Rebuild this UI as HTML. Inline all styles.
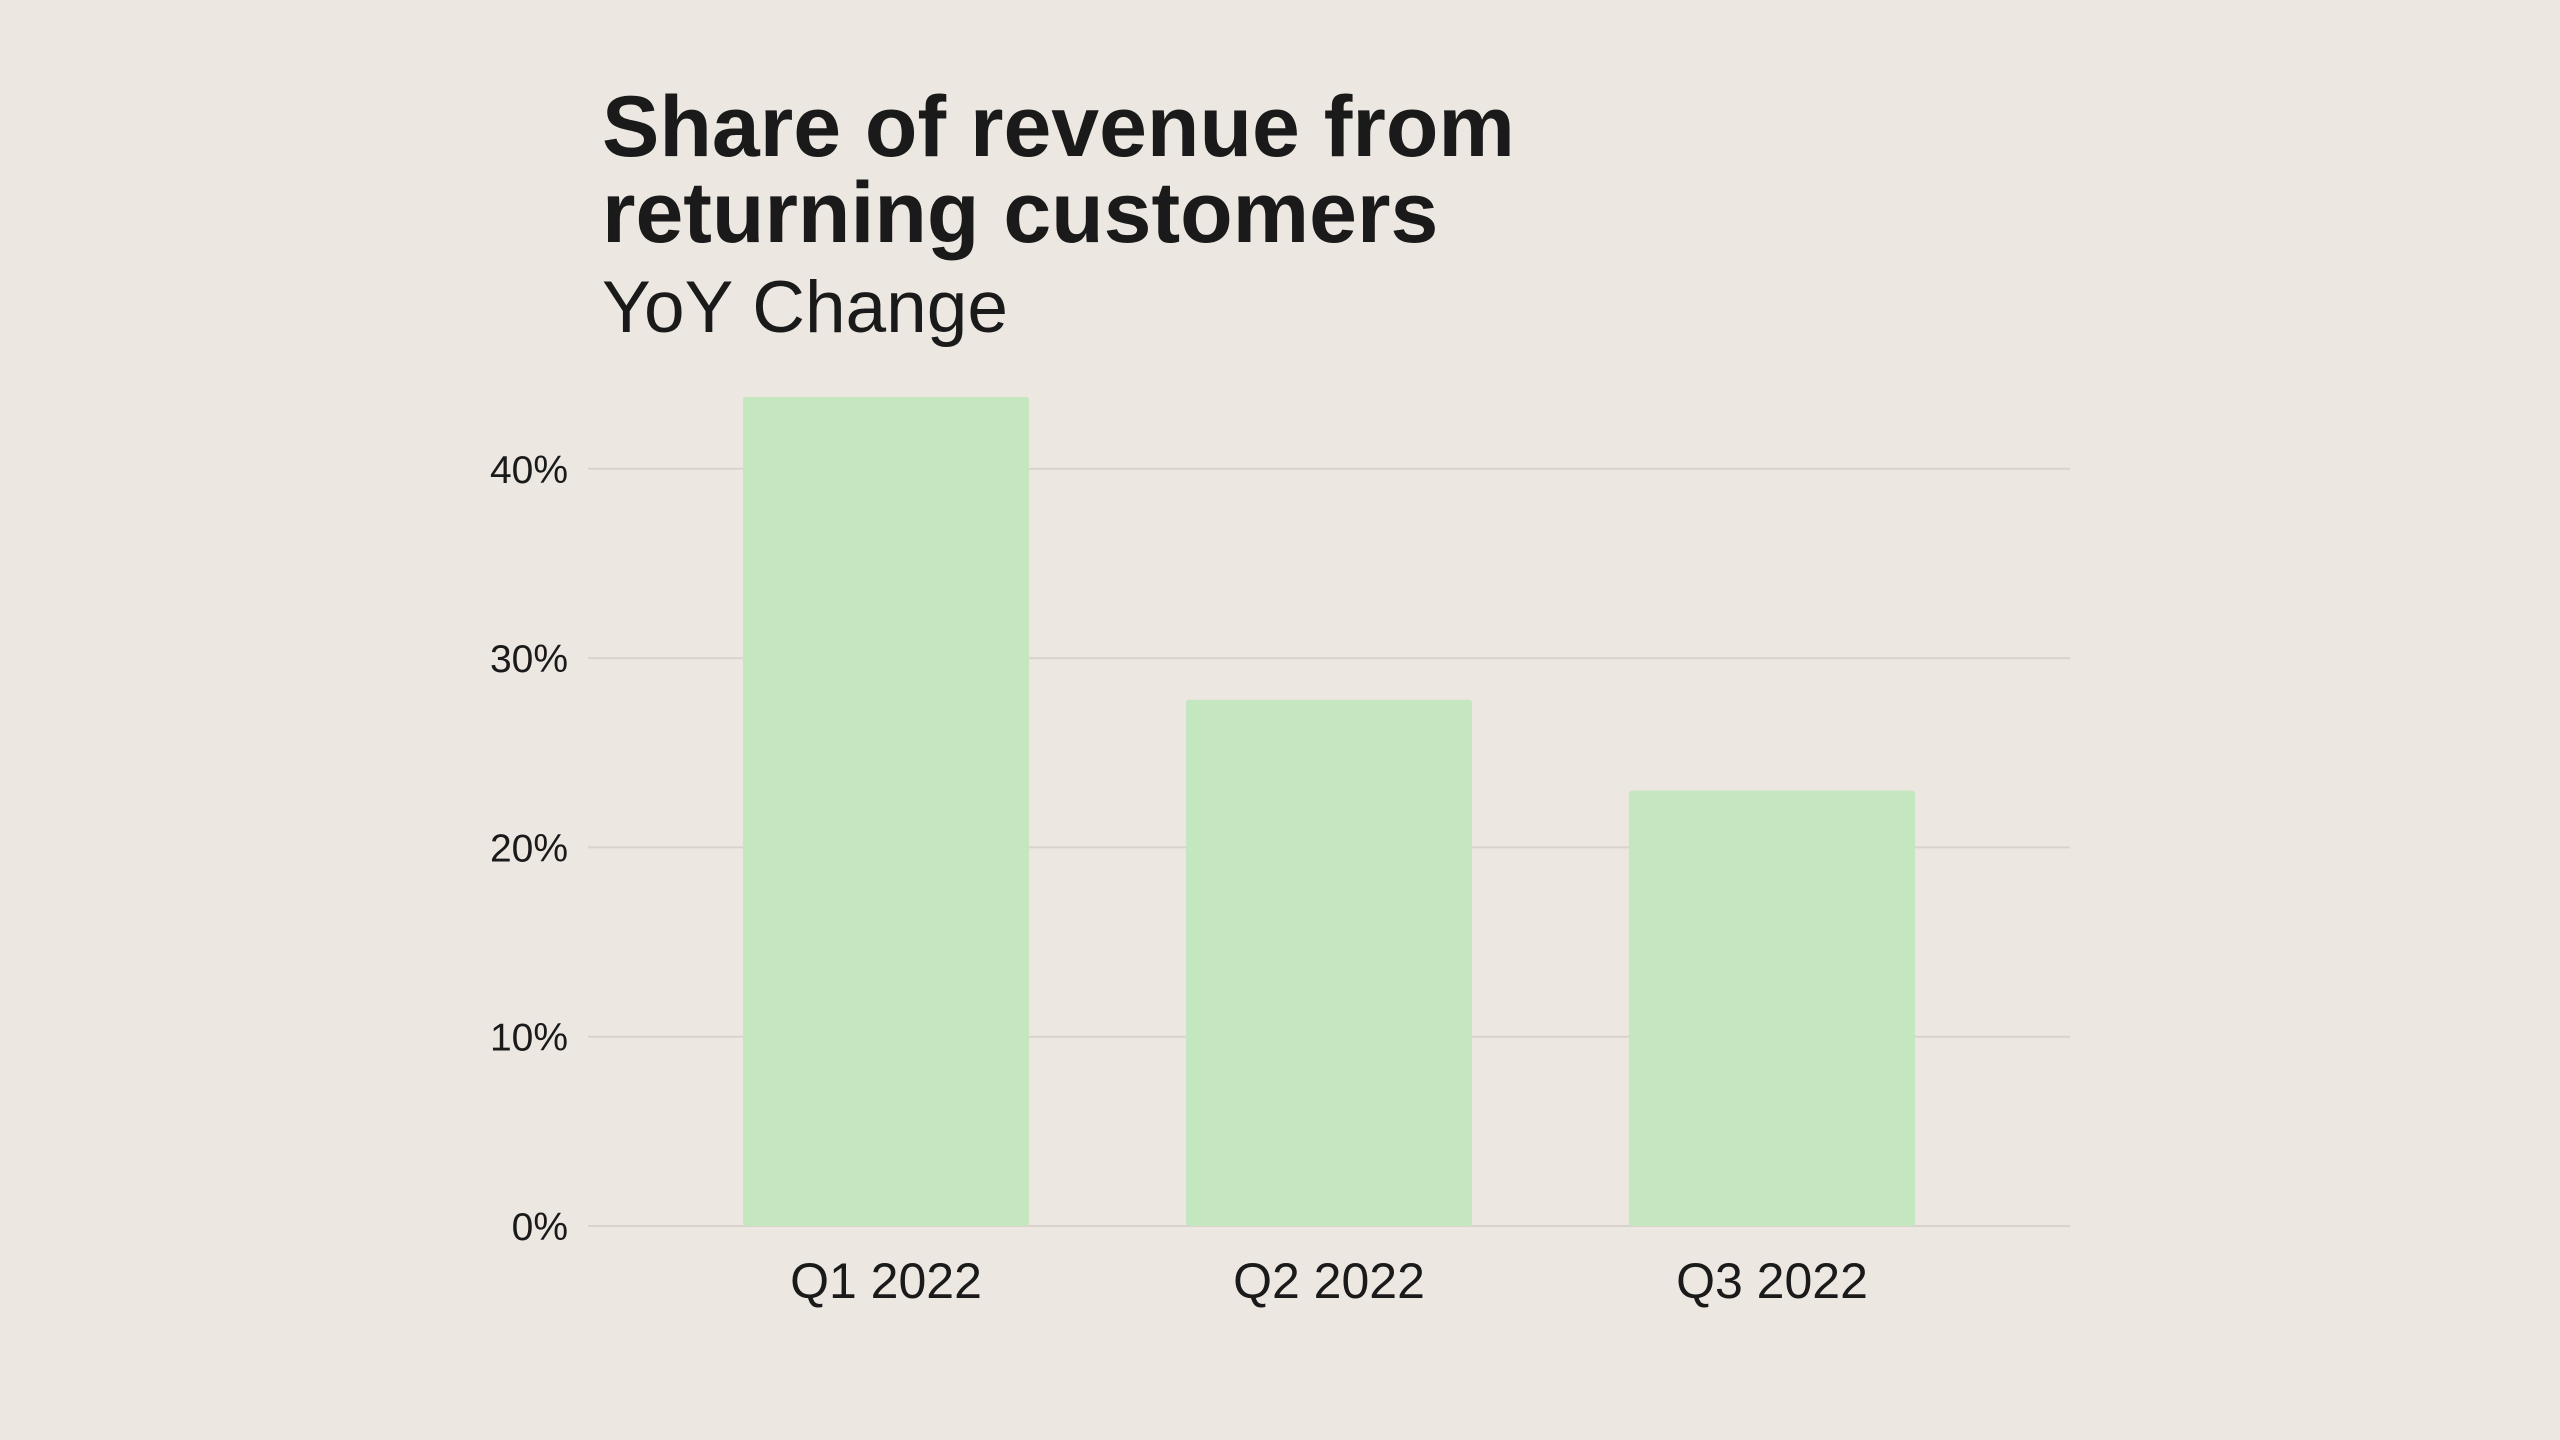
<!DOCTYPE html>
<html>
<head>
<meta charset="utf-8">
<style>
html,body{margin:0;padding:0;background:#ECE7E1;}
body{width:2560px;height:1440px;position:relative;overflow:hidden;font-family:"Liberation Sans",sans-serif;color:#1a1a1a;}
.title{position:absolute;left:602px;top:84px;font-size:86px;font-weight:600;line-height:86px;letter-spacing:0px;margin:0;}
.subtitle{position:absolute;left:602px;top:268px;font-size:73px;line-height:80px;margin:0;font-weight:normal;}
svg{position:absolute;left:0;top:0;}
</style>
</head>
<body>
<h1 class="title">Share of revenue from<br>returning customers</h1>
<h2 class="subtitle">YoY Change</h2>
<svg id="chart" width="2560" height="1440"></svg>
<script>
const categories = ["Q1 2022","Q2 2022","Q3 2022"];
const values = [43.8, 27.8, 23.0];
const yTicks = [0,10,20,30,40];
const yTickLabels = ["0%","10%","20%","30%","40%"];

const NS="http://www.w3.org/2000/svg";
const svg=document.getElementById('chart');
const y0=1226, pxPer10=189.3, gx0=588, gx1=2070;
const yScale=v=>y0-v/10*pxPer10;
const xCenter=i=>886+i*443;
const barW=286;
function mk(t,a){const e=document.createElementNS(NS,t);for(const k in a)e.setAttribute(k,a[k]);svg.appendChild(e);return e;}
yTicks.forEach((t,i)=>{
  const l=mk('line',{x1:gx0,x2:gx1,y1:yScale(t),y2:yScale(t),stroke:'#D8D3CD','stroke-width':2});
  
  
  const tx=mk('text',{x:568,y:yScale(t)+14,'text-anchor':'end','font-size':39,fill:'#1a1a1a','font-family':'Liberation Sans, sans-serif'});
  tx.textContent=yTickLabels[i];
  
  
});
categories.forEach((c,i)=>{
  const r=mk('rect',{x:xCenter(i)-barW/2,y:yScale(values[i]),width:barW,height:y0-yScale(values[i]),fill:'#C4E7C0',rx:3});
  
  
  const tx=mk('text',{x:xCenter(i),y:1298,'text-anchor':'middle','font-size':50,fill:'#1a1a1a','font-family':'Liberation Sans, sans-serif'});
  tx.textContent=c;
  
  
});
</script>
</body>
</html>
